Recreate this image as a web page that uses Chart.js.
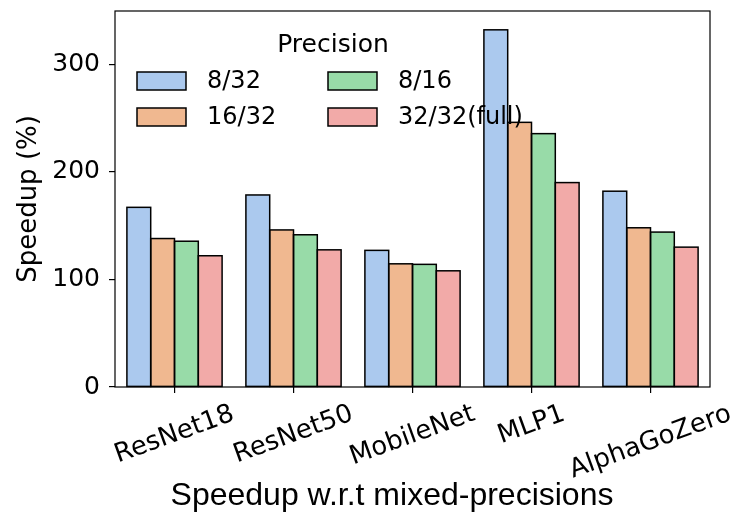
<!DOCTYPE html>
<html>
<head>
<meta charset="utf-8">
<script src="https://cdn.jsdelivr.net/npm/chart.js@4.4.1/dist/chart.umd.min.js"></script>
<style>
  body { margin: 0; background: #fff; }
</style>
</head>
<body>
<canvas id="myChart" width="738" height="515"></canvas>
<script>
const models = ['ResNet18', 'ResNet50', 'MobileNet', 'MLP1', 'AlphaGoZero'];
const precisions = ['8/32', '16/32', '8/16', '32/32(full)'];
const speedup832 = [167, 178.5, 127, 332, 182];
const speedup1632 = [138, 146, 114.5, 246, 148];
const speedup816 = [135.5, 141.5, 114, 235.5, 144];
const speedup3232 = [122, 127.5, 108, 190, 130];
const yTicks = [0, 100, 200, 300];
const colors = ['#abc9ee', '#f0b890', '#98dba8', '#f2aaa8'];

const seriesValues = [speedup832, speedup1632, speedup816, speedup3232];

// contour noir des barres, centré sur les bords (comme matplotlib)
const barEdgePlugin = {
  id: 'barEdges',
  afterDatasetsDraw(chart) {
    const { ctx } = chart;
    ctx.save();
    ctx.strokeStyle = '#000';
    ctx.lineWidth = 1.5;
    chart.data.datasets.forEach((ds, i) => {
      chart.getDatasetMeta(i).data.forEach(bar => {
        const p = bar.getProps(['x', 'y', 'base', 'width'], true);
        ctx.strokeRect(p.x - p.width / 2, p.y, p.width, p.base - p.y);
      });
    });
    ctx.restore();
  }
};

// cadre complet autour de la zone du graphique
const framePlugin = {
  id: 'frame',
  afterDraw(chart) {
    const { ctx, chartArea: a } = chart;
    ctx.save();
    ctx.strokeStyle = '#000';
    ctx.lineWidth = 1.2;
    ctx.strokeRect(a.left, a.top, a.right - a.left, a.bottom - a.top);
    ctx.restore();
  }
};

// etiquettes de l'axe x, inclinées et centrées sous le tick, + titre de l'axe
const xLabelsPlugin = {
  id: 'xLabels',
  afterDraw(chart) {
    const { ctx, chartArea: a } = chart;
    const xs = chart.scales.x;
    const rot = 20 * Math.PI / 180;
    const fs = 26;
    ctx.save();
    ctx.font = fs + 'px "DejaVu Sans"';
    ctx.fillStyle = '#000';
    ctx.textAlign = 'center';
    ctx.textBaseline = 'middle';
    chart.data.labels.forEach((lab, i) => {
      const x = xs.getPixelForTick(i);
      const w = ctx.measureText(lab).width;
      const h = fs * 1.17;
      const H = w * Math.sin(rot) + h * Math.cos(rot);
      ctx.save();
      ctx.translate(x, a.bottom + 12 + H / 2);
      ctx.rotate(-rot);
      ctx.fillText(lab, 0, 0);
      ctx.restore();
    });
    ctx.font = '32px "Liberation Sans", Arial';
    ctx.textBaseline = 'alphabetic';
    ctx.fillText('Speedup w.r.t mixed-precisions', 392, 505);
    ctx.restore();
  }
};

// légende sur deux colonnes, sans fond
const legendPlugin = {
  id: 'precisionLegend',
  afterDraw(chart) {
    const { ctx } = chart;
    ctx.save();
    ctx.fillStyle = '#000';
    ctx.font = '25px "DejaVu Sans"';
    ctx.textAlign = 'center';
    ctx.textBaseline = 'middle';
    ctx.fillText('Precision', 333, 45);
    ctx.font = '24px "DejaVu Sans"';
    ctx.textAlign = 'left';
    const colX = [137, 328];
    const rowY = [72, 108];
    chart.data.datasets.forEach((ds, i) => {
      const col = Math.floor(i / 2), row = i % 2;
      const bx = colX[col], by = rowY[row];
      ctx.fillStyle = ds.backgroundColor;
      ctx.fillRect(bx, by, 49, 18);
      ctx.strokeStyle = '#000';
      ctx.lineWidth = 1.5;
      ctx.strokeRect(bx, by, 49, 18);
      ctx.fillStyle = '#000';
      ctx.fillText(ds.label, bx + 70, by + 10);
    });
    ctx.restore();
  }
};

const data = {
  labels: models,
  datasets: precisions.map((p, i) => ({
    label: p,
    data: seriesValues[i],
    backgroundColor: colors[i],
    borderWidth: 0,
    inflateAmount: 0,
    categoryPercentage: 0.8,
    barPercentage: 1.0
  }))
};

const config = {
  type: 'bar',
  data: data,
  options: {
    responsive: false,
    animation: false,
    layout: { padding: { top: 11, right: 28, left: 0, bottom: 0 } },
    plugins: {
      legend: { display: false },
      tooltip: { enabled: false }
    },
    scales: {
      x: {
        border: { display: false },
        grid: { offset: false, drawOnChartArea: false, color: '#000', lineWidth: 1.2, tickLength: 6 },
        ticks: { display: false },
        afterFit(s) { s.height = 128; s.paddingLeft = 0; s.paddingRight = 0; }
      },
      y: {
        min: 0,
        max: 349.5,
        border: { display: false },
        grid: { drawOnChartArea: false, color: '#000', lineWidth: 1.2, tickLength: 6 },
        afterBuildTicks(s) { s.ticks = yTicks.map(v => ({ value: v })); },
        ticks: {
          color: '#000',
          padding: 9,
          font: { family: '"DejaVu Sans"', size: 25 }
        },
        title: {
          display: true,
          text: 'Speedup (%)',
          color: '#000',
          font: { family: '"DejaVu Sans"', size: 26 },
          padding: { top: 14, bottom: 0 }
        },
        afterFit(s) { s.width = 115; s.paddingTop = 0; s.paddingBottom = 0; }
      }
    }
  },
  plugins: [barEdgePlugin, framePlugin, xLabelsPlugin, legendPlugin]
};

var myChart = new Chart(document.getElementById('myChart'), config);
</script>
</body>
</html>
